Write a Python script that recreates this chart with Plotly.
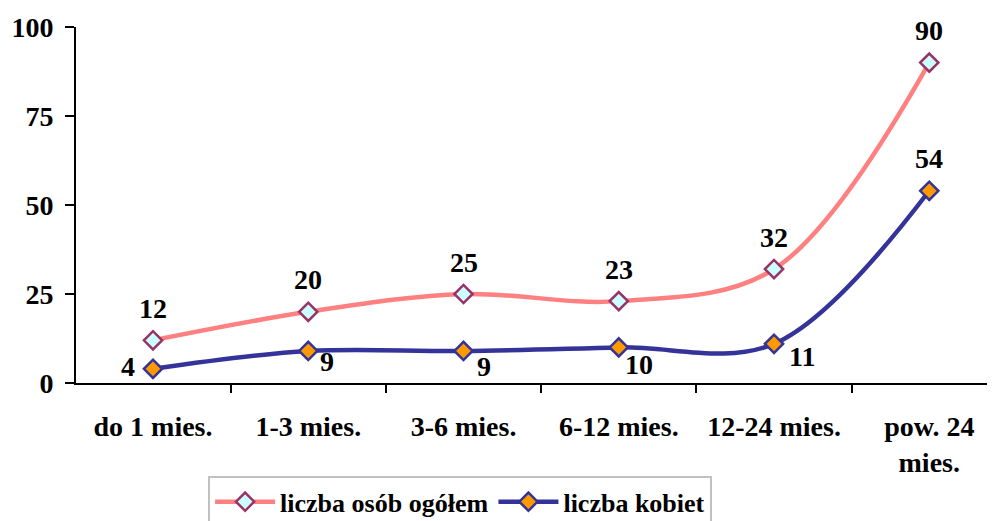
import plotly.graph_objects as go

categories = ["do 1 mies.", "1-3 mies.", "3-6 mies.", "6-12 mies.", "12-24 mies.", "pow. 24<br>mies."]
ogolem = [12, 20, 25, 23, 32, 90]
kobiety = [4, 9, 9, 10, 11, 54]
y_ticks = [0, 25, 50, 75, 100]

FONT = "Liberation Serif, Times New Roman, serif"
FS = 28

fig = go.Figure()
fig.add_trace(go.Scatter(
    x=categories, y=ogolem, name="liczba osób ogółem", mode="lines+markers",
    line=dict(color="#FF8080", width=4.5, shape="spline", smoothing=1.0),
    marker=dict(symbol="diamond", size=14, color="#CCFFFF", line=dict(color="#993366", width=2.5)),
))
fig.add_trace(go.Scatter(
    x=categories, y=kobiety, name="liczba kobiet", mode="lines+markers",
    line=dict(color="#333399", width=4.5, shape="spline", smoothing=1.0),
    marker=dict(symbol="diamond", size=14, color="#FF9900", line=dict(color="#333399", width=2.5)),
))

# data labels
for c, v in zip(categories, ogolem):
    fig.add_annotation(x=c, y=v, text=str(v), showarrow=False, xshift=0, yshift=32,
                       font=dict(family=FONT, size=FS, color="black", weight="bold"))
k_shifts = [(-25, 2), (19, -11), (20, -16), (20, -17), (28, -13), (0, 32)]
for c, v, (dx, dy) in zip(categories, kobiety, k_shifts):
    fig.add_annotation(x=c, y=v, text=str(v), showarrow=False, xshift=dx, yshift=dy,
                       font=dict(family=FONT, size=FS, color="black", weight="bold"))

fig.update_layout(
    width=995, height=521,
    margin=dict(l=68, r=0, t=19, b=146, autoexpand=False),
    paper_bgcolor="white", plot_bgcolor="white",
    font=dict(family=FONT, size=FS, color="black", weight="bold"),
    showlegend=True,
    legend=dict(orientation="h", x=0.1425, xanchor="left", y=-0.262, yanchor="top",
                bordercolor="#C0C0C0", borderwidth=2,
                font=dict(family=FONT, size=26, color="black", weight="bold"),
                itemwidth=60),
)
fig.update_xaxes(
    type="category", range=[-0.496, 5.475], automargin=False,
    showline=True, linecolor="black", linewidth=2,
    ticks="outside", tickson="boundaries", ticklen=8, tickcolor="black", tickwidth=2,
    showgrid=False, zeroline=False,
    tickfont=dict(family=FONT, size=FS, color="black", weight="bold"),
    ticklabelstandoff=17,
)
fig.update_yaxes(
    range=[0, 100], tickvals=y_ticks, automargin=False,
    showline=True, linecolor="black", linewidth=2,
    ticks="outside", ticklen=9, tickcolor="black", tickwidth=2,
    showgrid=False, zeroline=False,
    tickfont=dict(family=FONT, size=FS, color="black", weight="bold"),
    ticklabelstandoff=6,
)

fig.write_html("out.html")
